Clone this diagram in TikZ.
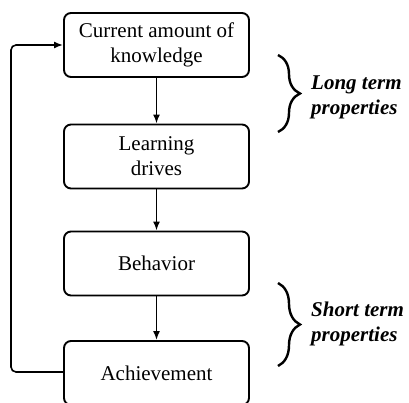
\documentclass[tikz,border=0pt]{standalone}
\usepackage{fontspec}
\setmainfont{Liberation Serif}
\usetikzlibrary{arrows.meta,decorations.pathreplacing}

\begin{document}
\begin{tikzpicture}[x=1pt,y=1pt,yscale=-1,xscale=1,
  stage/.style={draw,line width=1.9pt,rounded corners=7pt,fill=white,
    minimum width=185pt,minimum height=64pt,align=center,inner sep=2pt,
    font=\fontsize{21}{25}\selectfont},
  flow/.style={line width=1.6pt,-{Latex[length=9pt,width=7pt]}},
  curly/.style={decorate,decoration={brace,amplitude=22pt,aspect=0.5},line width=2.4pt},
  note/.style={anchor=west,align=left,inner sep=0pt,
    font=\fontsize{21}{25}\selectfont\bfseries\itshape}]
\useasboundingbox (0,0) rectangle (409,403);

% Boxes
\node[stage] (know) at (156.5,45) {Current amount of\\knowledge};
\node[stage] (learn) at (156.5,156.5) {Learning\\drives};
\node[stage] (behav) at (156.5,263.5) {Behavior};
\node[stage] (achieve) at (156.5,373) {Achievement};

% Arrows down
\draw[flow] (know) -- (learn);
\draw[flow] (learn) -- (behav);
\draw[flow] (behav) -- (achieve);

% Feedback loop
\coordinate (back) at (11,372);
\draw[flow,rounded corners=5pt] (achieve.west |- back) -- (back) |- (know.west);

% Braces
\coordinate (longtop) at (278,55);
\coordinate (longbot) at (278,132);
\draw[curly] (longtop) -- (longbot);
\node[note] (longterm) at (311,97) {Long term\\properties};

\coordinate (shorttop) at (278,283);
\coordinate (shortbot) at (278,366);
\draw[curly] (shorttop) -- (shortbot);
\node[note] (shortterm) at (311,324) {Short term\\properties};
\end{tikzpicture}
\end{document}
